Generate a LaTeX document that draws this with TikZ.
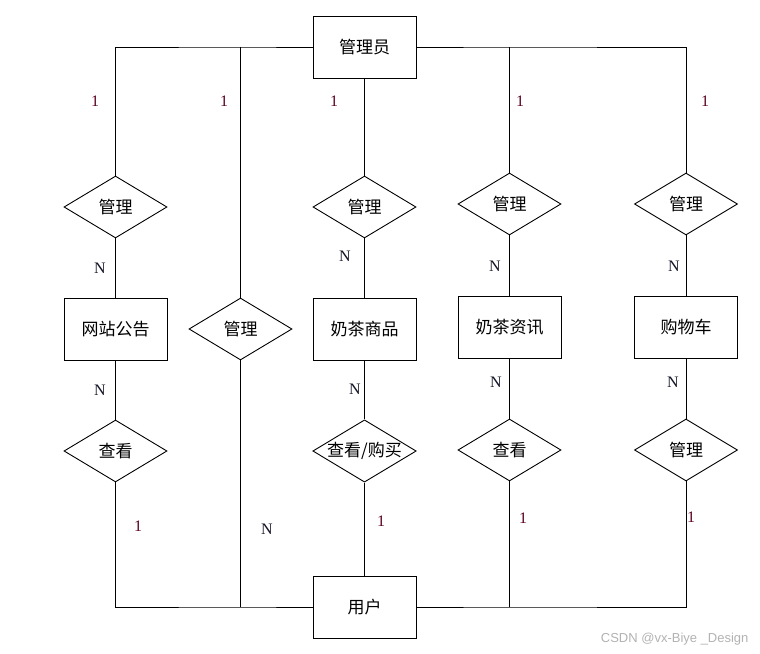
\documentclass[tikz,border=0pt]{standalone}
\usepackage{fontspec}
\setmainfont{Liberation Serif}
\newfontfamily\cjk{Noto Sans CJK SC}
\newfontfamily\wm{Liberation Sans}
\usetikzlibrary{shapes.geometric}
\definecolor{onecol}{RGB}{90,0,30}
\definecolor{ncol}{RGB}{20,20,40}
\tikzset{
  ent/.style={draw, line width=0.9pt, minimum width=103pt, minimum height=62pt, inner sep=0pt, font=\cjk\fontsize{17}{19}\selectfont},
  rel/.style={draw, diamond, aspect=1.66, line width=0.9pt, minimum width=103pt, minimum height=62pt, inner sep=0pt, font=\cjk\fontsize{17}{19}\selectfont},
  conn/.style={line width=0.9pt, line join=miter},
  card/.style={font=\fontsize{16}{18}\selectfont, text=onecol},
  ncard/.style={font=\fontsize{16}{18}\selectfont, text=ncol},
}
\begin{document}
\begin{tikzpicture}[x=1pt,y=-1pt]
\useasboundingbox (0,0) rectangle (760,653);
% entities
\node[ent] (admin) at (364.5,47) {管理员};
\node[ent] (notice) at (115.5,329) {网站公告};
\node[ent] (goods) at (364.5,329) {奶茶商品};
\node[ent] (news) at (509.5,327) {奶茶资讯};
\node[ent] (cart) at (686,327) {购物车};
\node[ent] (user) at (364.5,607) {用户};
% relations
\node[rel] (r1) at (115.5,207) {管理};
\node[rel] (r2) at (240.5,329) {管理};
\node[rel] (r3) at (364.5,207) {管理};
\node[rel] (r4) at (509.5,204) {管理};
\node[rel] (r5) at (686,204) {管理};
\node[rel] (v1) at (115.5,451) {查看};
\node[rel] (v3) at (364.5,451) {查看/购买};
\node[rel] (v4) at (509.5,450) {查看};
\node[rel] (v5) at (686,450) {管理};
% junction coordinates
\coordinate (tl) at (115.5,47);
\coordinate (tm) at (240.5,47);
\coordinate (t4) at (509.5,47);
\coordinate (tr) at (686,47);
\coordinate (bl) at (115.5,607);
\coordinate (bm) at (240.5,607);
\coordinate (b4) at (509.5,607);
\coordinate (br) at (686,607);
% connectors top
\draw[conn] (admin.west) -- (tm) -- (tl) -- (r1.north);
\draw[conn] (tm) -- (r2.north);
\draw[conn] (admin.south) -- (r3.north);
\draw[conn] (admin.east) -- (t4) -- (tr) -- (r5.north);
\draw[conn] (t4) -- (r4.north);
% middle
\draw[conn] (r1.south) -- (notice.north);
\draw[conn] (r3.south) -- (goods.north);
\draw[conn] (r4.south) -- (news.north);
\draw[conn] (r5.south) -- (cart.north);
\draw[conn] (notice.south) -- (v1.north);
\draw[conn] (goods.south) -- (v3.north);
\draw[conn] (news.south) -- (v4.north);
\draw[conn] (cart.south) -- (v5.north);
% bottom
\draw[conn] (v1.south) -- (bl) -- (bm) -- (user.west);
\draw[conn] (r2.south) -- (bm);
\draw[conn] (v3.south) -- (user.north);
\draw[conn] (user.east) -- (b4) -- (br) -- (v5.south);
\draw[conn] (v4.south) -- (b4);
% cardinalities
\node[card] (c1) at (95,101) {1};
\node[card] (c2) at (224,101) {1};
\node[card] (c3) at (334,101) {1};
\node[card] (c4) at (520,101) {1};
\node[card] (c5) at (705,101) {1};
\node[ncard] (n1) at (100,268) {N};
\node[ncard] (n3) at (345,256) {N};
\node[ncard] (n4) at (495,266) {N};
\node[ncard] (n5) at (674,266) {N};
\node[ncard] (m1) at (100,390) {N};
\node[ncard] (m3) at (355,389) {N};
\node[ncard] (m4) at (496,382) {N};
\node[ncard] (m5) at (673,382) {N};
\node[card] (d1) at (138,526) {1};
\node[card] (d3) at (381,521) {1};
\node[card] (d4) at (523,518) {1};
\node[card] (d5) at (691,517) {1};
\node[ncard] (n2) at (267,529) {N};
% watermark
\node[font=\wm\fontsize{13}{15}\selectfont, text=black!30, anchor=east] (wm) at (752,639) {CSDN @vx-Biye \_Design};
\end{tikzpicture}
\end{document}
